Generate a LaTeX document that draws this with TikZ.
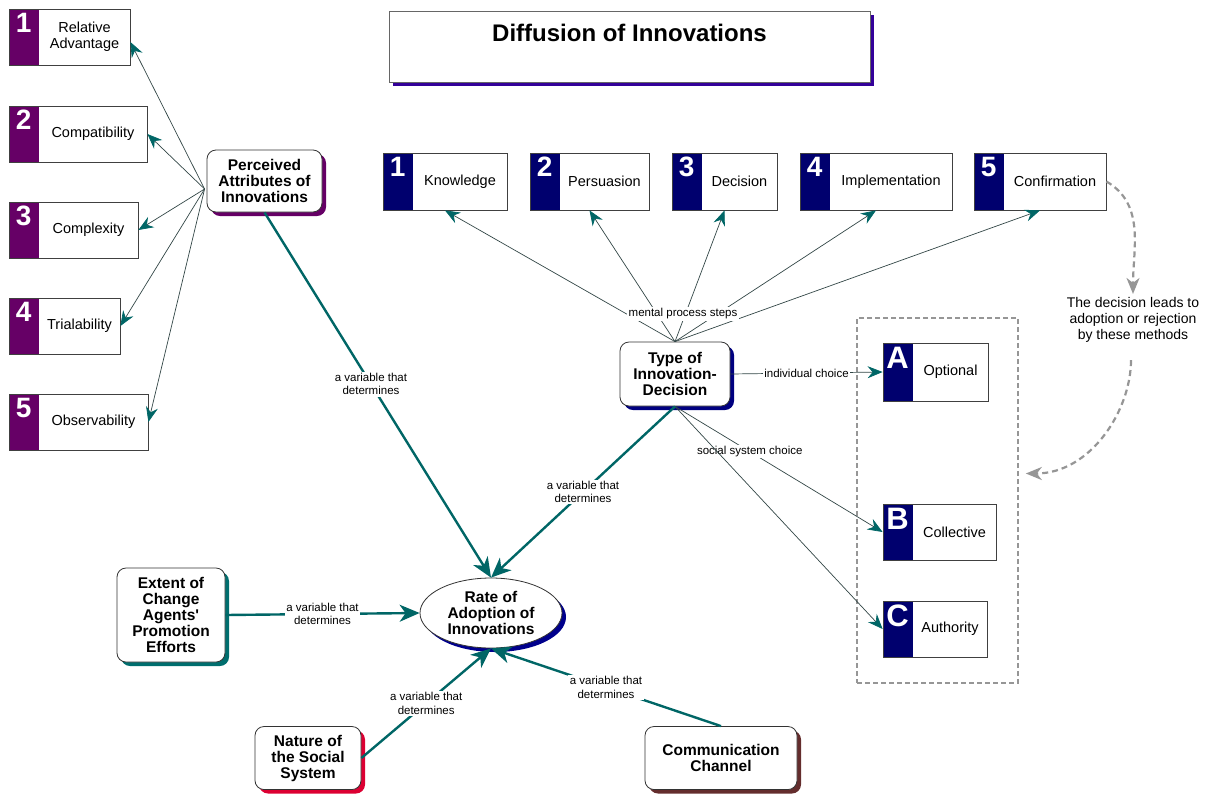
\documentclass[tikz,border=0pt]{standalone}
\usepackage{fontspec}
\setmainfont{Liberation Sans}
\usepackage{tikz}
\usetikzlibrary{calc}
\usetikzlibrary{arrows.meta}
\usetikzlibrary{shapes.geometric}
\usetikzlibrary{shadows}
\usetikzlibrary{positioning}

\definecolor{purp}{RGB}{102,0,102}
\definecolor{stepblue}{RGB}{0,0,110}
\definecolor{arrteal}{RGB}{0,102,102}
\definecolor{lineg}{RGB}{50,70,70}
\definecolor{titleshade}{RGB}{51,0,153}
\definecolor{typeshade}{RGB}{0,0,128}
\definecolor{rateshade}{RGB}{0,0,140}
\definecolor{extshade}{RGB}{0,110,110}
\definecolor{natshade}{RGB}{220,0,50}
\definecolor{comshade}{RGB}{100,45,45}
\definecolor{dashgray}{RGB}{150,150,150}

\newcommand{\conceptfont}{\bfseries\fontsize{15.5}{16}\selectfont}
\newcommand{\boxfont}{\fontsize{14.5}{16}\selectfont}
\newcommand{\numfont}{\bfseries\fontsize{28}{28}\selectfont}
\newcommand{\letterfont}{\bfseries\fontsize{31}{31}\selectfont}
\newcommand{\edgefont}{\fontsize{11.5}{13.5}\selectfont}

\tikzset{numlabel/.style={anchor=north,xshift=15pt,yshift=-4pt,inner sep=0pt,text=white}}
\tikzset{boxtext/.style={xshift=15pt,align=center,font=\boxfont,inner sep=0pt}}
\tikzset{numbox/.style 2 args={rectangle,draw=black!75,line width=0.8pt,fill=white,inner sep=0pt,
    path picture={\fill[#1] (path picture bounding box.north west) rectangle ([xshift=30pt]path picture bounding box.south west);},
    label={[numlabel]north west:#2}}}
\tikzset{shadowed/.style={drop shadow={shadow xshift=4pt,shadow yshift=-4pt,fill=#1,opacity=1}}}
\tikzset{concept/.style={draw=black!80,line width=0.8pt,fill=white,rounded corners=9pt,align=center,font=\conceptfont,inner sep=3pt}}
\tikzset{elabel/.style={fill=white,font=\edgefont,align=center,inner sep=1.5pt}}
\tikzset{thinarrow/.style={draw=lineg,line width=0.7pt,-{Stealth[length=15pt,width=12pt,inset=5pt,color=arrteal]}}}
\tikzset{thickarrow/.style={draw=arrteal,line width=2.4pt,-{Stealth[length=20pt,width=17pt,inset=6pt]}}}
\tikzset{dasharrow/.style={draw=dashgray,line width=2.2pt,dash pattern=on 6pt off 4pt,-{Stealth[length=16pt,width=13pt,inset=5pt]}}}

\begin{document}
\begin{tikzpicture}[x=1pt,y=-1pt]
\useasboundingbox (0,0) rectangle (1207,793);

% title
\node[rectangle,draw=black!60,line width=0.8pt,fill=white,shadowed=titleshade,minimum width=481pt,minimum height=71pt] (title) at (629.5,46.5) {};
\node[font=\bfseries\fontsize{24}{24}\selectfont] (titletxt) at (629.5,33) {Diffusion of Innovations};

% attributes
\node[numbox={purp}{\numfont 1},minimum width=121pt,minimum height=56pt,label={[boxtext]center:Relative\\Advantage}] (reladv) at (69.5,37) {};
\node[numbox={purp}{\numfont 2},minimum width=138pt,minimum height=56pt,label={[boxtext]center:Compatibility}] (compat) at (78,134) {};
\node[numbox={purp}{\numfont 3},minimum width=129pt,minimum height=56pt,label={[boxtext]center:Complexity}] (complex) at (73.5,230) {};
\node[numbox={purp}{\numfont 4},minimum width=111pt,minimum height=56pt,label={[boxtext]center:Trialability}] (trial) at (64.5,326) {};
\node[numbox={purp}{\numfont 5},minimum width=139pt,minimum height=56pt,label={[boxtext]center:Observability}] (observ) at (78.5,422) {};

% steps
\node[numbox={stepblue}{\numfont 1},minimum width=124pt,minimum height=57pt,label={[boxtext]center:Knowledge}] (know) at (445,181.5) {};
\node[numbox={stepblue}{\numfont 2},minimum width=119pt,minimum height=57pt,label={[boxtext]center:Persuasion}] (pers) at (589.5,181.5) {};
\node[numbox={stepblue}{\numfont 3},minimum width=105pt,minimum height=57pt,label={[boxtext]center:Decision}] (deci) at (724.5,181.5) {};
\node[numbox={stepblue}{\numfont 4},minimum width=152pt,minimum height=57pt,label={[boxtext]center:Implementation}] (impl) at (876,181.5) {};
\node[numbox={stepblue}{\numfont 5},minimum width=132pt,minimum height=57pt,label={[boxtext]center:Confirmation}] (conf) at (1040,181.5) {};

% methods
\node[rectangle,draw=dashgray,line width=1.6pt,dash pattern=on 5pt off 3pt,minimum width=161pt,minimum height=365pt] (methods) at (937.5,500.5) {};
\node[numbox={stepblue}{\letterfont A},minimum width=105pt,minimum height=58pt,label={[boxtext]center:Optional}] (opt) at (935.5,372) {};
\node[numbox={stepblue}{\letterfont B},minimum width=113pt,minimum height=56pt,label={[boxtext]center:Collective}] (coll) at (939.5,532) {};
\node[numbox={stepblue}{\letterfont C},minimum width=104pt,minimum height=56pt,label={[boxtext]center:Authority}] (auth) at (935,629) {};
\node[align=center,font=\fontsize{14}{16}\selectfont] (dectxt) at (1133,320) {The decision leads to\\adoption or rejection\\by these methods};

% concepts
\node[concept,shadowed=purp,minimum width=115pt,minimum height=62pt] (perc) at (264.5,181) {Perceived\\Attributes of\\Innovations};
\node[concept,shadowed=typeshade,minimum width=110pt,minimum height=64pt] (type) at (675,374) {Type of\\Innovation-\\Decision};
\node[ellipse,draw=black!80,line width=0.8pt,fill=white,shadowed=rateshade,align=center,font=\conceptfont,inner sep=0pt,minimum width=142pt,minimum height=70pt] (rate) at (491,613) {Rate of\\Adoption of\\Innovations};
\node[concept,shadowed=extshade,minimum width=108pt,minimum height=94pt] (extent) at (171,615) {Extent of\\Change\\Agents\textquotesingle\\Promotion\\Efforts};
\node[concept,shadowed=natshade,minimum width=106pt,minimum height=63pt] (nature) at (308,758) {Nature of\\the Social\\System};
\node[concept,shadowed=comshade,minimum width=152pt,minimum height=63pt] (comm) at (721,758) {Communication\\Channel};

% attribute arrows
\coordinate (percfan) at ([shift={(-2pt,-8pt)}]perc.west);
\draw[thinarrow] (percfan) -- ([yshift=-5pt]reladv.east);
\draw[thinarrow] (percfan) -- (compat.east);
\draw[thinarrow] (percfan) -- (complex.east);
\draw[thinarrow] (percfan) -- (trial.east);
\draw[thinarrow] (percfan) -- (observ.east);

% mental process steps
\draw[thinarrow] (type.north) -- (know.south);
\draw[thinarrow] (type.north) -- (pers.south);
\draw[thinarrow] (type.north) -- (deci.south);
\draw[thinarrow] (type.north) -- (impl.south);
\draw[thinarrow] (type.north) -- (conf.south);
\node[elabel] (mps) at (683,314) {mental process steps};

% choices
\draw[thinarrow] (type.east) -- node[elabel] (indiv) {individual choice} (opt.west);
\draw[thinarrow] (type.south) -- node[elabel,pos=0.36] (social) {social system choice} (coll.west);
\draw[thinarrow] (type.south) -- (auth.west);

% determinants
\draw[thickarrow] (perc.south) -- node[elabel,pos=0.47] (lperc) {a variable that\\determines} (rate.north);
\draw[thickarrow] (type.south) -- node[elabel,pos=0.5] (ltype) {a variable that\\determines} (rate.north);
\draw[thickarrow] (extent.east) -- node[elabel] (lext) {a variable that\\determines} (rate.west);
\draw[thickarrow] (nature.east) -- node[elabel] (lnat) {a variable that\\determines} (rate.south);
\draw[thickarrow] (comm.north) -- node[elabel] (lcomm) {a variable that\\determines} (rate.south);

% decision leads to methods
\coordinate (methtip) at ([shift={(7pt,27pt)}]methods.east);
\draw[dasharrow] (conf.east) to[out=-30,in=90] (dectxt.north);
\draw[dasharrow,shorten <=14pt] ([xshift=-2pt]dectxt.south) to[out=-90,in=0] (methtip);

\end{tikzpicture}
\end{document}
